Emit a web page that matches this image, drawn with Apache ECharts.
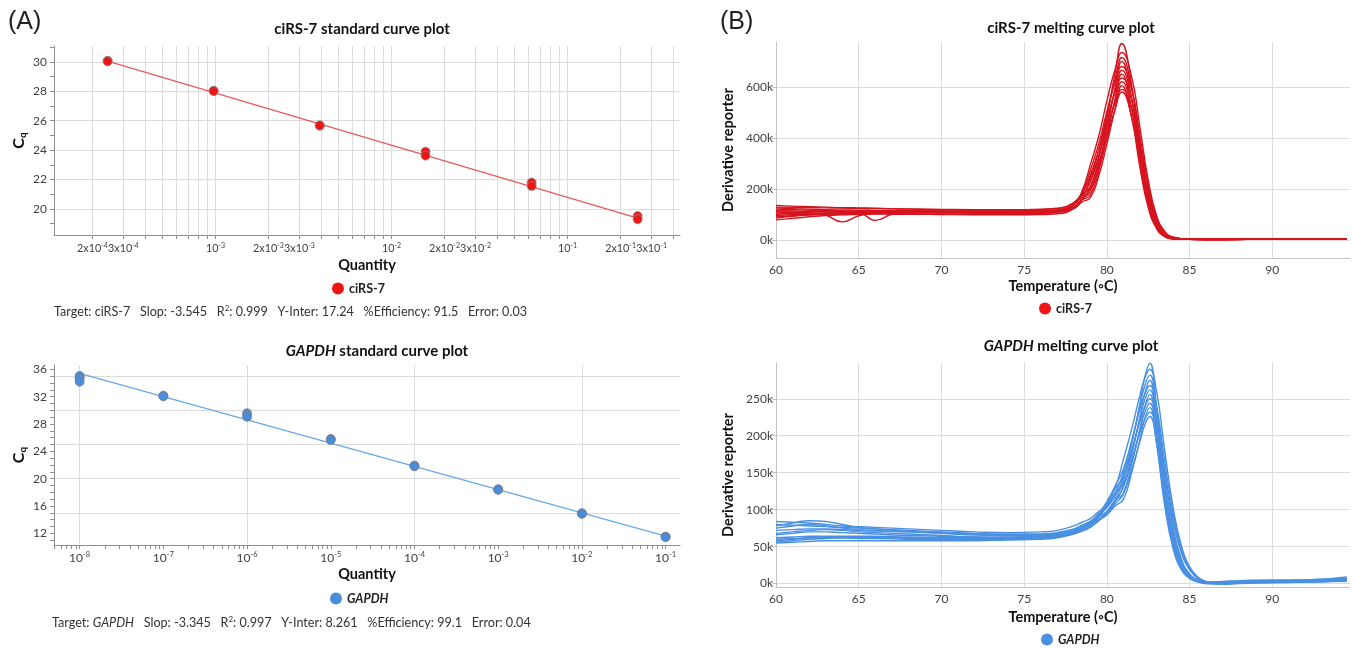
<!DOCTYPE html>
<html><head><meta charset="utf-8">
<script src="https://cdn.jsdelivr.net/npm/echarts@6/dist/echarts.min.js"></script>
<style>html,body{margin:0;padding:0;background:#fff}#c{width:1352px;height:648px}</style>
</head><body><div id="c"></div><script>
const FONT = 'Lato, "Open Sans", sans-serif';

// ---- Standard curve: ciRS-7 ----
const cirsPointQty = [0.000244,0.000244,0.000977,0.000977,0.00391,0.00391,0.0156,0.0156,0.0625,0.0625,0.25,0.25];
const cirsPointCq  = [30.07,30.03,28.03,28.01,25.65,25.68,23.89,23.62,21.79,21.56,19.52,19.30];
const cirsFitQty = [0.000244, 0.25];
const cirsFitCq  = [30.05, 19.37];
const cirsXLabelValues = [2e-4,3e-4,1e-3,2e-3,3e-3,1e-2,2e-2,3e-2,1e-1,2e-1,3e-1];
const cirsXTickValues = [2e-4,3e-4,4e-4,5e-4,6e-4,7e-4,8e-4,9e-4,1e-3,2e-3,3e-3,4e-3,5e-3,6e-3,7e-3,8e-3,9e-3,1e-2,2e-2,3e-2,4e-2,5e-2,6e-2,7e-2,8e-2,9e-2,1e-1,2e-1,3e-1,4e-1];
const cirsYLabels = [20,22,24,26,28,30];
const cirsYTicks = [19,20,21,22,23,24,25,26,27,28,29,30,31];

// ---- Standard curve: GAPDH ----
const gapdhPointQty = [1e-8,1e-8,1e-8,1e-7,1e-7,1e-6,1e-6,1e-5,1e-5,1e-4,1e-4,1e-3,1e-3,1e-2,1e-2,1e-1,1e-1];
const gapdhPointCq  = [35.02,34.68,34.19,32.14,32.05,29.56,29.06,25.80,25.65,21.90,21.82,18.44,18.38,14.93,14.86,11.50,11.45];
const gapdhFitQty = [1e-8, 1e-1];
const gapdhFitCq  = [35.4, 11.6];
const gapdhXLabelValues = [1e-8,1e-7,1e-6,1e-5,1e-4,1e-3,1e-2,1e-1];
const gapdhXTickValues = [5e-9,6e-9,7e-9,8e-9,9e-9,1e-8,2e-8,3e-8,4e-8,5e-8,6e-8,7e-8,8e-8,9e-8,1e-7,2e-7,3e-7,4e-7,5e-7,6e-7,7e-7,8e-7,9e-7,1e-6,2e-6,3e-6,4e-6,5e-6,6e-6,7e-6,8e-6,9e-6,1e-5,2e-5,3e-5,4e-5,5e-5,6e-5,7e-5,8e-5,9e-5,1e-4,2e-4,3e-4,4e-4,5e-4,6e-4,7e-4,8e-4,9e-4,1e-3,2e-3,3e-3,4e-3,5e-3,6e-3,7e-3,8e-3,9e-3,1e-2,2e-2,3e-2,4e-2,5e-2,6e-2,7e-2,8e-2,9e-2,1e-1];
const gapdhXGridValues = [1e-8,1e-6,1e-4,1e-2];
const gapdhYLabels = [12,16,20,24,28,32,36];
const gapdhYTicks = [11,12,13,14,15,16,17,18,19,20,21,22,23,24,25,26,27,28,29,30,31,32,33,34,35,36];
const gapdhYGrid = [15,20,25,30,35];

// ---- Melting curves (derivative reporter, in thousands) ----
const cirsMeltTemp = [60,61,62,63,64,65,66,67,68,70,72,74,76,77,78,78.5,79,79.5,80,80.5,80.9,81.5,82,82.5,83,83.5,84,85,87,90,94.5];
const cirsMeltCurvesK = [
 [128,127,126,125,124,123,122,121,120,118,117,117,118,122,145,180,208,316,477,655,770,608,362,162,58,15,4,3,2,3,3],
 [85,92,98,102,105,106,107,108,108,109,110,110,112,116,140,190,294,404,544,669,735,639,441,235,96,33,10,2,2,2,3],
 [135,132,130,128,126,125,124,122,121,119,118,118,120,124,146,183,245,350,490,630,715,595,380,185,72,21,7,2,2,2,2],
 [78,84,90,95,98,100,102,103,104,105,106,106,107,110,128,160,189,287,434,595,700,553,329,147,53,14,4,2,1,2,2],
 [110,108,105,97,70,94,105,108,109,110,111,111,112,115,138,185,272,374,503,619,680,592,408,218,88,31,10,2,1,2,2],
 [120,118,116,115,113,108,76,100,110,112,113,113,114,118,138,172,226,325,455,588,665,552,354,174,66,19,6,2,1,2,2],
 [95,98,100,102,104,105,106,107,107,108,108,108,109,112,128,156,176,267,403,553,650,514,306,137,49,13,4,2,2,2,2],
 [125,122,120,118,117,116,115,114,114,113,112,112,113,116,138,180,254,349,470,578,635,552,381,203,83,29,9,2,1,2,2],
 [100,103,104,105,106,106,106,106,106,106,106,105,106,109,126,158,208,298,420,546,620,515,330,162,62,18,5,2,1,2,2],
 [115,113,111,110,110,109,109,108,108,107,104,103,104,107,122,148,165,248,375,514,605,478,284,127,45,12,4,2,1,2,2],
 [90,94,97,99,100,101,101,100,100,99,98,98,99,102,122,162,236,325,437,537,590,513,354,189,77,27,9,2,1,2,2],
 [105,107,109,110,111,112,112,112,112,112,111,110,111,114,130,158,200,282,396,512,580,482,310,152,58,17,5,2,1,2,2]
];
const cirsMeltYLabels = [0,200,400,600];

const gapdhMeltTemp = [60,61,62,63,64,65,66,68,70,72,74,76,77,78,78.5,79,79.5,80,80.5,81,81.5,82,82.3,82.6,83,83.5,84,84.5,85,85.5,86,87,88,90,92,94.5];
const gapdhMeltCurvesK = [
 [84,83,82,80,78,77,76,74,72,70,69,70,72,78,83,88,97,103,119,143,188,244,280,298,238,131,60,24,9,3,2,3,4,5,5,9],
 [56,58,60,61,62,62,62,61,60,60,60,61,63,68,72,79,90,107,129,168,209,255,278,290,261,180,104,52,23,9,3,0,1,2,2,4],
 [78,82,85,84,80,76,74,71,69,67,66,66,68,73,78,83,92,104,122,150,192,240,268,282,240,147,76,34,13,5,2,2,3,4,4,7],
 [62,63,64,64,64,64,64,63,62,62,62,63,65,70,75,80,87,95,111,132,173,226,258,275,220,121,55,22,8,3,1,1,2,3,3,5],
 [72,73,74,74,73,72,71,70,68,66,65,65,67,72,77,84,95,111,132,155,193,236,256,268,241,166,96,48,21,8,2,1,2,4,4,6],
 [55,56,57,58,58,58,58,58,58,58,59,60,62,67,71,76,85,97,114,139,178,223,249,262,223,136,70,31,11,3,0,-1,0,1,2,3],
 [80,79,78,77,76,75,74,72,70,68,67,67,69,74,79,84,90,98,112,123,161,210,240,256,205,113,51,20,8,3,2,2,3,4,5,7],
 [66,68,70,70,69,68,67,65,64,63,63,63,65,70,75,82,93,108,128,145,180,220,239,250,225,155,90,45,20,8,2,1,2,3,3,5],
 [60,61,62,62,62,61,61,60,60,60,60,61,63,68,72,77,86,97,112,130,166,207,232,244,207,127,66,29,10,3,0,0,1,2,2,4],
 [75,78,80,78,75,73,72,70,68,66,65,64,66,71,75,80,86,93,105,114,150,195,224,238,190,105,48,19,7,2,1,1,2,3,4,6],
 [58,60,62,63,63,63,63,62,61,61,61,62,64,69,74,81,90,104,122,135,167,204,222,232,209,144,84,42,19,7,2,0,1,2,3,4],
 [68,70,72,73,72,70,69,67,65,63,62,62,64,69,73,77,85,95,108,121,154,192,215,226,192,118,61,27,10,3,1,1,2,3,3,5]
];
const gapdhMeltYLabels = [0,50,100,150,200,250];

// ---- colours ----
const RED_DOT = '#ee1515', RED_FIT = '#e85a5a', RED_MELT = '#d6141f';
const BLUE_DOT = '#4a8edb', BLUE_FIT = '#6aa8e6', BLUE_MELT = '#4a90e2';
const LABEL = '#404040', AXIS_A = '#8f8f8f', AXIS_B = '#c4c4c4', GRID = '#dcdcdc';

function sci(v) {
  const e = Math.floor(Math.log10(v) + 1e-9);
  const m = Math.round(v / Math.pow(10, e));
  return (m === 1 ? '' : m + 'x') + '10{s|' + e + '}';
}
const supRich = { s: { fontSize: 7.5, padding: [0, 0, 7, 0], fontFamily: FONT, color: LABEL } };
const supRichSmall = { s: { fontSize: 7, padding: [0, 0, 7, 0], fontFamily: FONT, color: LABEL } };
const pairs = (xs, ys) => xs.map((x, i) => [x, ys[i]]);

const series = [];
series.push({ type: 'line', name: 'ciRS-7 fit', xAxisIndex: 0, yAxisIndex: 0, data: pairs(cirsFitQty, cirsFitCq), showSymbol: false, lineStyle: { color: RED_FIT, width: 1.3 }, silent: true, z: 3 });
series.push({ type: 'scatter', name: 'ciRS-7', xAxisIndex: 0, yAxisIndex: 0, data: pairs(cirsPointQty, cirsPointCq), symbolSize: 9, itemStyle: { color: RED_DOT, borderColor: '#8a8a8a', borderWidth: 0.8, opacity: 1 }, z: 4 });
series.push({ type: 'line', name: 'GAPDH fit', xAxisIndex: 1, yAxisIndex: 2, data: pairs(gapdhFitQty, gapdhFitCq), showSymbol: false, lineStyle: { color: BLUE_FIT, width: 1.3 }, silent: true, z: 3 });
series.push({ type: 'scatter', name: 'GAPDH', xAxisIndex: 1, yAxisIndex: 2, data: pairs(gapdhPointQty, gapdhPointCq), symbolSize: 9, itemStyle: { color: BLUE_DOT, borderColor: '#7a7a7a', borderWidth: 0.8, opacity: 1 }, z: 4 });
cirsMeltCurvesK.forEach(c => series.push({ type: 'line', name: 'ciRS-7', xAxisIndex: 3, yAxisIndex: 4, data: pairs(cirsMeltTemp, c), smooth: 0.5, showSymbol: false, silent: true, lineStyle: { color: RED_MELT, width: 1.4 } }));
gapdhMeltCurvesK.forEach(c => series.push({ type: 'line', name: 'GAPDH', xAxisIndex: 4, yAxisIndex: 5, data: pairs(gapdhMeltTemp, c), smooth: 0.5, showSymbol: false, silent: true, lineStyle: { color: BLUE_MELT, width: 1.4 } }));

const axLabel = { color: LABEL, fontSize: 12, fontFamily: FONT };
const nameStyle = { color: '#111', fontSize: 14.5, fontWeight: 'bold', fontFamily: FONT };
const legendText = { fontSize: 12.5, fontWeight: 'bold', color: '#222', fontFamily: FONT };
const panelLetter = { fontSize: 25, fontWeight: 'normal', color: '#222', fontFamily: '"Liberation Sans", Arial, sans-serif' };

const option = {
  animation: false,
  textStyle: { fontFamily: FONT },
  title: [
    { text: '(A)', left: 3, top: 5, textStyle: panelLetter },
    { text: '(B)', left: 715, top: 5, textStyle: panelLetter },
    { text: 'ciRS-7 standard curve plot', left: 357, textAlign: 'center', top: 17, textStyle: { fontSize: 15, fontWeight: 'bold', color: '#111', fontFamily: FONT } },
    { text: '{i|GAPDH} standard curve plot', left: 372, textAlign: 'center', top: 339, textStyle: { fontSize: 15, fontWeight: 'bold', color: '#111', fontFamily: FONT, rich: { i: { fontSize: 15, fontWeight: 'bold', fontStyle: 'italic', color: '#111', fontFamily: FONT } } } },
    { text: 'ciRS-7 melting curve plot', left: 1066, textAlign: 'center', top: 16, textStyle: { fontSize: 15, fontWeight: 'bold', color: '#111', fontFamily: FONT } },
    { text: '{i|GAPDH} melting curve plot', left: 1066, textAlign: 'center', top: 334, textStyle: { fontSize: 15, fontWeight: 'bold', color: '#111', fontFamily: FONT, rich: { i: { fontSize: 15, fontWeight: 'bold', fontStyle: 'italic', color: '#111', fontFamily: FONT } } } },
    { text: 'Target: ciRS-7   Slop: -3.545   R{s|2}: 0.999   Y-Inter: 17.24   %Efficiency: 91.5   Error: 0.03', left: 49, top: 299, textStyle: { fontSize: 12.6, fontWeight: 'normal', color: '#333', fontFamily: FONT, rich: { s: { fontSize: 8, padding: [0, 0, 7, 0], color: '#333', fontFamily: FONT } } } },
    { text: 'Target: {i|GAPDH}   Slop: -3.345   R{s|2}: 0.997   Y-Inter: 8.261   %Efficiency: 99.1   Error: 0.04', left: 47, top: 610, textStyle: { fontSize: 12.6, fontWeight: 'normal', color: '#333', fontFamily: FONT, rich: { s: { fontSize: 8, padding: [0, 0, 7, 0], color: '#333', fontFamily: FONT }, i: { fontSize: 12.6, fontStyle: 'italic', color: '#333', fontFamily: FONT } } } }
  ],
  legend: [
    { data: [{ name: 'ciRS-7', icon: 'circle', itemStyle: { color: RED_DOT, borderWidth: 0 } }], left: 327, top: 277, itemWidth: 12, itemHeight: 12, itemGap: 4, selectedMode: false, textStyle: legendText },
    { data: [{ name: 'GAPDH', icon: 'circle', itemStyle: { color: BLUE_DOT, borderWidth: 0 }, textStyle: { fontStyle: 'italic' } }], left: 325, top: 587, itemWidth: 12, itemHeight: 12, itemGap: 4, selectedMode: false, textStyle: legendText },
    { data: [{ name: 'ciRS-7', icon: 'circle', itemStyle: { color: RED_DOT, borderWidth: 0 } }], left: 1034, top: 297, itemWidth: 12, itemHeight: 12, itemGap: 4, selectedMode: false, textStyle: legendText },
    { data: [{ name: 'GAPDH', icon: 'circle', itemStyle: { color: BLUE_MELT, borderWidth: 0 }, textStyle: { fontStyle: 'italic' } }], left: 1036, top: 628, itemWidth: 12, itemHeight: 12, itemGap: 4, selectedMode: false, textStyle: legendText }
  ],
  grid: [
    { left: 54, top: 46, width: 626, height: 189 },
    { left: 54, top: 365, width: 626, height: 180 },
    { left: 776, top: 42, width: 574, height: 216 },
    { left: 776, top: 363, width: 574, height: 224 }
  ],
  xAxis: [
    { type: 'log', gridIndex: 0, position: 'bottom', min: 1.21e-4, max: 0.435,
      name: 'Quantity', nameLocation: 'middle', nameGap: 23, nameTextStyle: nameStyle,
      axisLine: { onZero: false, lineStyle: { color: AXIS_A } },
      axisTick: { customValues: cirsXTickValues, length: 4, lineStyle: { color: AXIS_A } },
      axisLabel: Object.assign({ customValues: cirsXLabelValues, margin: 7, hideOverlap: false, showMinLabel: true, showMaxLabel: true, formatter: v => sci(v), rich: supRichSmall }, axLabel, { fontSize: 10.8 }),
      splitLine: { show: true, lineStyle: { color: GRID } } },
    { type: 'log', gridIndex: 1, position: 'bottom', min: 4.94e-9, max: 0.1486,
      name: 'Quantity', nameLocation: 'middle', nameGap: 22, nameTextStyle: nameStyle,
      axisLine: { onZero: false, lineStyle: { color: AXIS_A } },
      axisTick: { customValues: gapdhXTickValues, length: 4, lineStyle: { color: AXIS_A } },
      axisLabel: Object.assign({ customValues: gapdhXLabelValues, margin: 6, hideOverlap: false, showMinLabel: true, showMaxLabel: true, formatter: v => sci(v), rich: supRich }, axLabel),
      splitLine: { show: false } },
    { type: 'log', gridIndex: 1, position: 'bottom', min: 4.94e-9, max: 0.1486,
      axisLine: { show: false }, axisLabel: { show: false },
      axisTick: { show: false, customValues: gapdhXGridValues },
      splitLine: { show: true, lineStyle: { color: GRID } } },
    { type: 'value', gridIndex: 2, min: 60, max: 94.7, interval: 5,
      name: 'Temperature (◦C)', nameLocation: 'middle', nameGap: 21, nameTextStyle: nameStyle,
      axisLine: { onZero: false, lineStyle: { color: AXIS_B } }, axisTick: { show: false },
      axisLabel: Object.assign({ showMaxLabel: false, margin: 6 }, axLabel),
      splitLine: { show: true, showMaxLine: false, showMinLine: false, lineStyle: { color: GRID } } },
    { type: 'value', gridIndex: 3, min: 60, max: 94.7, interval: 5,
      name: 'Temperature (◦C)', nameLocation: 'middle', nameGap: 23, nameTextStyle: nameStyle,
      axisLine: { onZero: false, lineStyle: { color: AXIS_B } }, axisTick: { show: false },
      axisLabel: Object.assign({ showMaxLabel: false, margin: 6 }, axLabel),
      splitLine: { show: true, showMaxLine: false, showMinLine: false, lineStyle: { color: GRID } } }
  ],
  yAxis: [
    { type: 'value', gridIndex: 0, position: 'left', min: 18.23, max: 31.07,
      name: 'C{q|q}', nameLocation: 'middle', nameGap: 26, nameTextStyle: Object.assign({ rich: { q: { fontSize: 10, fontWeight: 'bold', padding: [8, 0, 0, 0], color: '#111', fontFamily: FONT } } }, nameStyle, { fontSize: 16 }),
      axisLine: { show: true, onZero: false, lineStyle: { color: AXIS_A } },
      axisTick: { show: true, customValues: cirsYTicks, length: 4, lineStyle: { color: AXIS_A } },
      axisLabel: Object.assign({ customValues: cirsYLabels, margin: 7 }, axLabel),
      splitLine: { show: false } },
    { type: 'value', gridIndex: 0, position: 'left', min: 18.23, max: 31.07,
      axisLine: { show: false }, axisLabel: { show: false },
      axisTick: { show: false, customValues: cirsYLabels },
      splitLine: { show: true, lineStyle: { color: GRID } } },
    { type: 'value', gridIndex: 1, position: 'left', min: 10.29, max: 36.63,
      name: 'C{q|q}', nameLocation: 'middle', nameGap: 26, nameTextStyle: Object.assign({ rich: { q: { fontSize: 10, fontWeight: 'bold', padding: [8, 0, 0, 0], color: '#111', fontFamily: FONT } } }, nameStyle, { fontSize: 16 }),
      axisLine: { show: true, onZero: false, lineStyle: { color: AXIS_A } },
      axisTick: { show: true, customValues: gapdhYTicks, length: 4, lineStyle: { color: AXIS_A } },
      axisLabel: Object.assign({ customValues: gapdhYLabels, margin: 7 }, axLabel),
      splitLine: { show: false } },
    { type: 'value', gridIndex: 1, position: 'left', min: 10.29, max: 36.63,
      axisLine: { show: false }, axisLabel: { show: false },
      axisTick: { show: false, customValues: gapdhYGrid },
      splitLine: { show: true, lineStyle: { color: GRID } } },
    { type: 'value', gridIndex: 2, position: 'left', min: -71.6, max: 776,
      name: 'Derivative reporter', nameLocation: 'middle', nameGap: 40, nameTextStyle: nameStyle,
      axisLine: { show: true, onZero: false, lineStyle: { color: AXIS_B } },
      axisTick: { show: true, customValues: cirsMeltYLabels, length: 4, lineStyle: { color: AXIS_B } },
      axisLabel: Object.assign({ customValues: cirsMeltYLabels, margin: 3, formatter: v => v + 'k' }, axLabel),
      splitLine: { show: true, lineStyle: { color: GRID } } },
    { type: 'value', gridIndex: 3, position: 'left', min: -4.6, max: 298.4,
      name: 'Derivative reporter', nameLocation: 'middle', nameGap: 40, nameTextStyle: nameStyle,
      axisLine: { show: true, onZero: false, lineStyle: { color: AXIS_B } },
      axisTick: { show: true, customValues: gapdhMeltYLabels, length: 4, lineStyle: { color: AXIS_B } },
      axisLabel: Object.assign({ customValues: gapdhMeltYLabels, margin: 3, formatter: v => v + 'k' }, axLabel),
      splitLine: { show: true, lineStyle: { color: GRID } } }
  ],
  series: series
};

const chart = echarts.init(document.getElementById('c'), null, { renderer: 'canvas' });
chart.setOption(option);
</script></body></html>
